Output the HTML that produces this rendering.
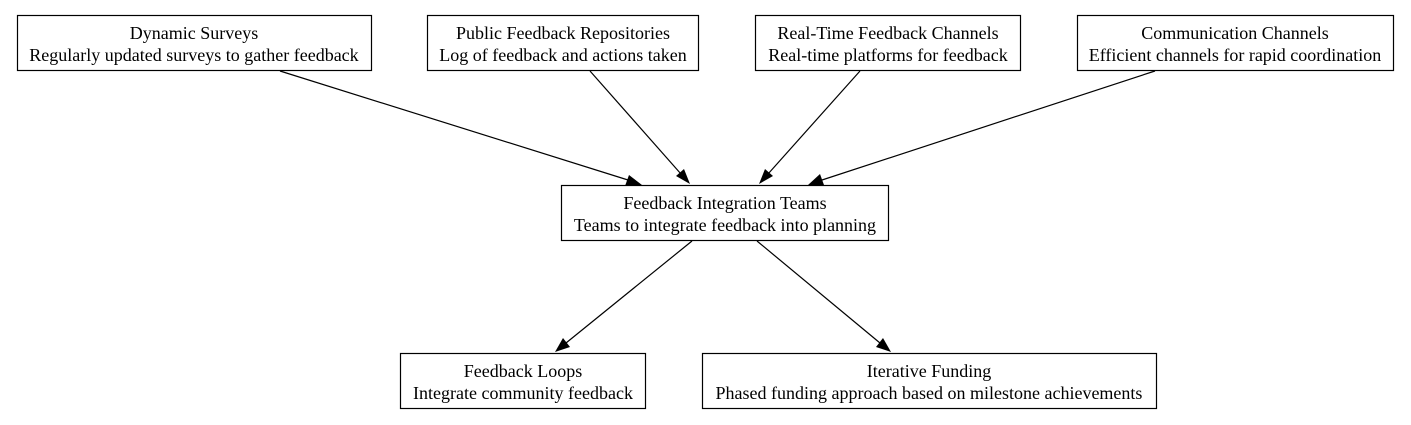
<!DOCTYPE html>
<html><head><meta charset="utf-8"><style>
html,body{margin:0;padding:0;background:#fff;}
svg{display:block;}
text{font-family:"Liberation Serif",serif;font-size:18px;fill:#000;text-anchor:middle;}
rect{fill:#fff;stroke:#000;stroke-width:1.2;}
line{stroke:#000;stroke-width:1.2;}
</style></head><body>
<svg width="1411" height="425" viewBox="0 0 1411 425" xmlns="http://www.w3.org/2000/svg">
<rect x="17.5" y="15.5" width="354" height="55"/>
<text x="194" y="39">Dynamic Surveys</text><text x="194" y="61">Regularly updated surveys to gather feedback</text>
<rect x="427.5" y="15.5" width="271" height="55"/>
<text x="563" y="39">Public Feedback Repositories</text><text x="563" y="61">Log of feedback and actions taken</text>
<rect x="755.5" y="15.5" width="265" height="55"/>
<text x="888" y="39">Real-Time Feedback Channels</text><text x="888" y="61">Real-time platforms for feedback</text>
<rect x="1077.5" y="15.5" width="316" height="55"/>
<text x="1235" y="39">Communication Channels</text><text x="1235" y="61">Efficient channels for rapid coordination</text>
<rect x="561.5" y="185.5" width="327" height="55"/>
<text x="725" y="209">Feedback Integration Teams</text><text x="725" y="231">Teams to integrate feedback into planning</text>
<rect x="400.5" y="353.5" width="245" height="55"/>
<text x="523" y="377">Feedback Loops</text><text x="523" y="399">Integrate community feedback</text>
<rect x="702.5" y="353.5" width="454" height="55"/>
<text x="929" y="377">Iterative Funding</text><text x="929" y="399">Phased funding approach based on milestone achievements</text>
<g>
<line x1="280" y1="71" x2="628" y2="180"/><path d="M642,185 L625,186 L629,175 z"/>
<line x1="590" y1="71" x2="681" y2="174"/><path d="M690,184 L676,176 L684,169 z"/>
<line x1="860" y1="71" x2="768" y2="174"/><path d="M759,184 L765,169 L773,176 z"/>
<line x1="1155" y1="71" x2="822" y2="180"/><path d="M808,185 L820,174 L824,185 z"/>
<line x1="692" y1="241" x2="566" y2="343"/><path d="M555,352 L563,338 L570,347 z"/>
<line x1="757" y1="241" x2="880" y2="343"/><path d="M891,352 L876,347 L883,338 z"/>
</g>
</svg>
</body></html>
